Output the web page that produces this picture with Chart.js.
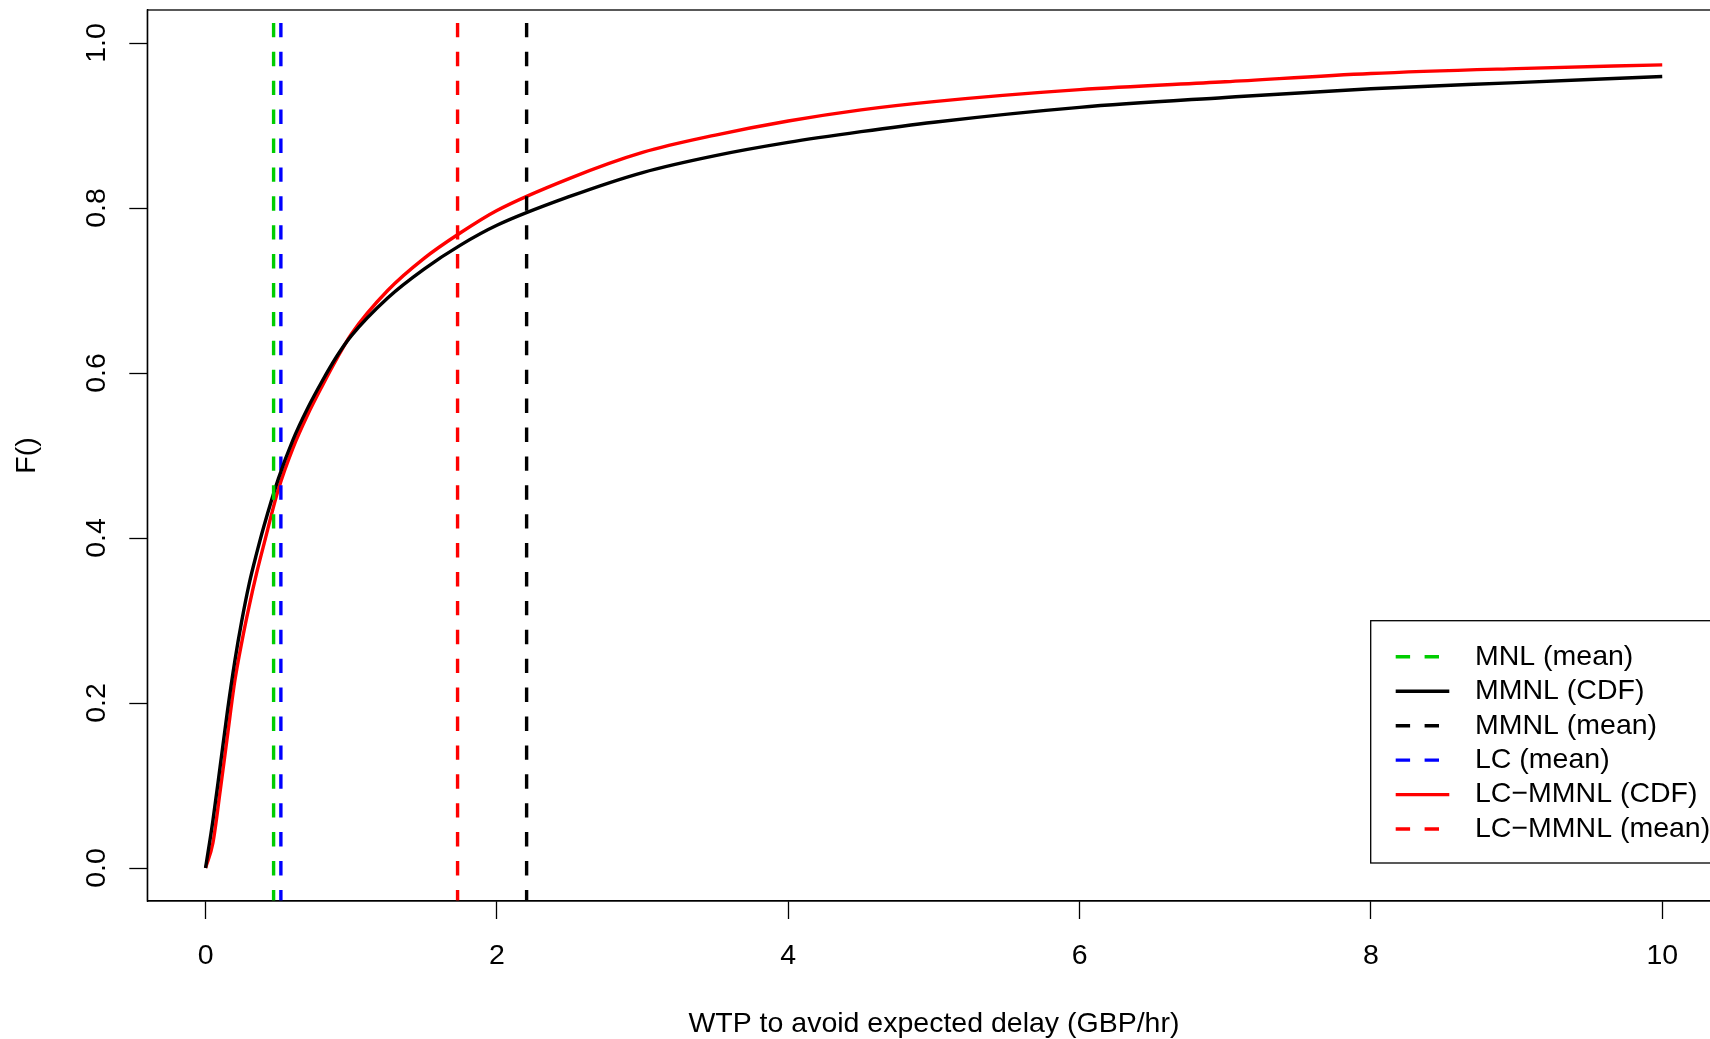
<!DOCTYPE html>
<html><head><meta charset="utf-8">
<script src="https://cdn.jsdelivr.net/npm/chart.js@4/dist/chart.umd.min.js"></script>
<style>
html,body{margin:0;padding:0;background:#fff;overflow:hidden;width:1710px;height:1039px}
canvas{display:block}
</style>
</head><body>
<canvas id="c" width="1730" height="1039"></canvas>
<script>
// ---- data ----
const wtp = [0, 0.05, 0.1, 0.15, 0.2, 0.25, 0.3, 0.35, 0.4, 0.5, 0.6, 0.7, 0.8, 0.9, 1.0, 1.25, 1.5, 1.75, 2.0, 2.5, 3.0, 3.5, 4.0, 4.5, 5.0, 6.0, 7.0, 8.0, 9.0, 10.0];
const mmnlCdf = [0, 0.057, 0.123, 0.190, 0.250, 0.301, 0.345, 0.381, 0.414, 0.472, 0.519, 0.557, 0.590, 0.620, 0.645, 0.691, 0.726, 0.755, 0.779, 0.814, 0.843, 0.8635, 0.8795, 0.8925, 0.904, 0.922, 0.934, 0.9446, 0.952, 0.9594];
const lcmmnlCdf = [0, 0.030, 0.093, 0.160, 0.226, 0.275, 0.318, 0.357, 0.392, 0.459, 0.509, 0.549, 0.584, 0.617, 0.647, 0.700, 0.739, 0.770, 0.797, 0.836, 0.8674, 0.8884, 0.9055, 0.919, 0.929, 0.9435, 0.953, 0.963, 0.969, 0.9735];
const mnlMean = 0.467;
const mmnlMean = 2.204;
const lcMean = 0.517;
const lcmmnlMean = 1.730;
const seriesNames = ['MNL (mean)', 'MMNL (CDF)', 'MMNL (mean)', 'LC (mean)', 'LC\u2212MMNL (CDF)', 'LC\u2212MMNL (mean)'];
const xTicks = [0, 2, 4, 6, 8, 10];
const xTickLabels = ['0', '2', '4', '6', '8', '10'];
const yTicks = [0, 0.2, 0.4, 0.6, 0.8, 1.0];
const yTickLabels = ['0.0', '0.2', '0.4', '0.6', '0.8', '1.0'];
const xLimits = [-0.4, 10.4];
const yLimits = [-0.04, 1.04];
const xTitle = 'WTP to avoid expected delay (GBP/hr)';
const yTitle = 'F()';

// ---- styling ----
const FONT = '"Liberation Sans", Arial, Helvetica, sans-serif';
const FS = 28.5;
const LW = 3.4;
const DASH = [14.4, 14.5];
const GREEN = '#00CD00', BLUE = '#0000FF', RED = '#FF0000', BLACK = '#000000';

Chart.defaults.font.family = FONT;
Chart.defaults.color = '#000';

function vline(x) { return [{x: x, y: yLimits[0]}, {x: x, y: yLimits[1]}]; }
function curve(ys) { return wtp.map((x, i) => ({x: x, y: ys[i]})); }

const datasets = [
  {label: seriesNames[0], data: vline(mnlMean), borderColor: GREEN, borderDash: DASH, borderDashOffset: 3.3},
  {label: seriesNames[1], data: curve(mmnlCdf), borderColor: BLACK, cubicInterpolationMode: 'monotone'},
  {label: seriesNames[2], data: vline(mmnlMean), borderColor: BLACK, borderDash: DASH, borderDashOffset: 3.3},
  {label: seriesNames[3], data: vline(lcMean), borderColor: BLUE, borderDash: DASH, borderDashOffset: 3.3},
  {label: seriesNames[4], data: curve(lcmmnlCdf), borderColor: RED, cubicInterpolationMode: 'monotone'},
  {label: seriesNames[5], data: vline(lcmmnlMean), borderColor: RED, borderDash: DASH, borderDashOffset: 3.3}
].map(d => Object.assign({borderWidth: LW, pointRadius: 0, fill: false, borderCapStyle: 'butt'}, d));

const legendBox = {left: 1370.7, top: 620.7, bottom: 863, x0: 1395.7, x1: 1449.3, textX: 1475, row0: 656.8, step: 34.45};

const framePlugin = {
  id: 'frame',
  afterDraw(chart) {
    const ctx = chart.ctx, a = chart.chartArea;
    ctx.save();
    // plot box
    ctx.strokeStyle = '#000'; ctx.lineWidth = 1.3; ctx.setLineDash([]);
    ctx.strokeRect(a.left, a.top, a.right - a.left, a.bottom - a.top);
    // rotated y tick labels placed by the y scale
    const ys = chart.scales.y;
    ctx.fillStyle = '#000';
    ctx.font = FS + 'px ' + FONT;
    ctx.textAlign = 'center'; ctx.textBaseline = 'middle';
    yTicks.forEach((v, i) => {
      ctx.save();
      ctx.translate(97, ys.getPixelForValue(v));
      ctx.rotate(-Math.PI / 2);
      ctx.fillText(yTickLabels[i], 0, 0);
      ctx.restore();
    });
    // legend
    const L = legendBox;
    ctx.lineWidth = 1.3;
    ctx.strokeRect(L.left, L.top, 600, L.bottom - L.top);
    ctx.textAlign = 'left';
    chart.data.datasets.forEach((d, i) => {
      const y = L.row0 + i * L.step;
      ctx.strokeStyle = d.borderColor;
      ctx.lineWidth = LW;
      ctx.lineCap = 'butt';
      ctx.setLineDash(d.borderDash || []);
      ctx.lineDashOffset = 0;
      ctx.beginPath(); ctx.moveTo(L.x0, y); ctx.lineTo(L.x1, y); ctx.stroke();
      ctx.setLineDash([]);
      ctx.fillStyle = '#000';
      ctx.fillText(d.label, L.textX, y);
    });
    ctx.restore();
  }
};

new Chart(document.getElementById('c'), {
  type: 'line',
  data: {datasets: datasets},
  options: {
    responsive: false,
    animation: false,
    devicePixelRatio: 1,
    layout: {padding: {left: 0, top: 10, right: 9.5, bottom: 0}},
    plugins: {legend: {display: false}, tooltip: {enabled: false}},
    scales: {
      x: {
        type: 'linear', min: xLimits[0], max: xLimits[1],
        afterBuildTicks: s => { s.ticks = xTicks.map(v => ({value: v})); },
        afterFit: s => { s.height = 138; },
        ticks: {callback: (v, i) => xTickLabels[i], color: '#000', font: {size: FS}, padding: 20, maxRotation: 0, minRotation: 0, autoSkip: false},
        grid: {display: true, drawOnChartArea: false, drawTicks: true, tickLength: 18, tickColor: '#000', tickWidth: 1.3},
        border: {display: true, color: '#000', width: 1.3},
        title: {display: true, text: xTitle, color: '#000', font: {size: FS, lineHeight: 1}, padding: {top: 0, bottom: 1}}
      },
      y: {
        type: 'linear', min: yLimits[0], max: yLimits[1],
        afterBuildTicks: s => { s.ticks = yTicks.map(v => ({value: v})); },
        afterFit: s => { s.width = 147.3; },
        ticks: {display: false},
        grid: {display: true, drawOnChartArea: false, drawTicks: true, tickLength: 18, tickColor: '#000', tickWidth: 1.3},
        border: {display: true, color: '#000', width: 1.3},
        title: {display: true, text: yTitle, color: '#000', font: {size: FS, lineHeight: 1}, padding: {top: 12.75, bottom: 0}}
      }
    }
  },
  plugins: [framePlugin]
});
</script>
</body></html>
